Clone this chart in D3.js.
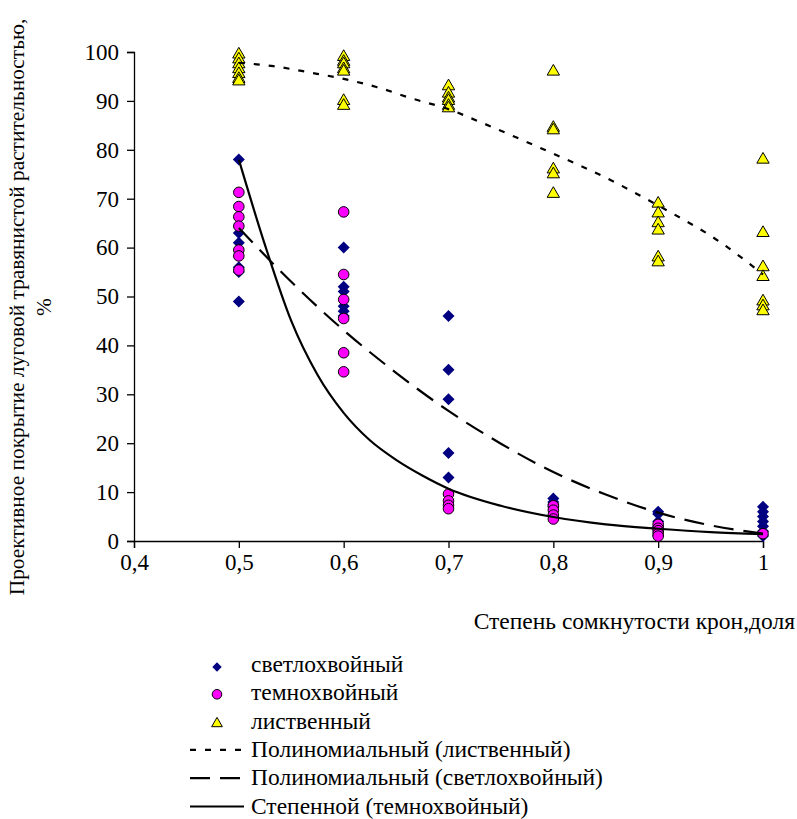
<!DOCTYPE html>
<html>
<head>
<meta charset="utf-8">
<script src="https://cdn.jsdelivr.net/npm/d3@7/dist/d3.min.js"></script>
<style>
  html, body { margin: 0; padding: 0; background: #fff; }
</style>
</head>
<body>
<svg id="chart" width="797" height="819"></svg>
<script>
// ---- data ----
const xTicks = [0.4, 0.5, 0.6, 0.7, 0.8, 0.9, 1.0];
const xTickLabels = ["0,4", "0,5", "0,6", "0,7", "0,8", "0,9", "1"];
const yTicks = [0, 10, 20, 30, 40, 50, 60, 70, 80, 90, 100];

// светлохвойный (diamonds)
const svetloX = [0.5,0.5,0.5,0.5,0.5,0.5, 0.6,0.6,0.6,0.6,0.6,0.6, 0.7,0.7,0.7,0.7,0.7, 0.8,0.8,0.8,0.8, 0.9,0.9,0.9,0.9,0.9, 1,1,1,1,1,1,1];
const svetloY = [78,63,61,56,55,49, 60,52,51,48,47,46, 46,35,29,18,13, 8.7,8,7.5,7, 6,5.5,4,3,1, 7,6,5,4,3,2,1];

// темнохвойный (circles)
const temnoX = [0.5,0.5,0.5,0.5,0.5,0.5,0.5, 0.6,0.6,0.6,0.6,0.6,0.6, 0.7,0.7,0.7,0.7, 0.8,0.8,0.8,0.8, 0.9,0.9,0.9,0.9,0.9, 1];
const temnoY = [71.3,68.4,66.3,64.4,59.5,58.3,55.4, 67.3,54.5,49.4,45.5,38.5,34.6, 9.6,8.2,7.3,6.6, 7.2,6.3,5.3,4.5, 3.4,2.6,2.1,1.5,1, 1.5];

// лиственный (triangles)
const listX = [0.5,0.5,0.5,0.5,0.5,0.5,0.5, 0.6,0.6,0.6,0.6,0.6,0.6,0.6, 0.7,0.7,0.7,0.7,0.7,0.7, 0.8,0.8,0.8,0.8,0.8,0.8, 0.9,0.9,0.9,0.9,0.9,0.9, 1,1,1,1,1,1,1];
const listY = [99.5,98.5,97.5,96.5,95.5,94.5,94, 99,98,97.5,96.5,96,90,89, 93,91.5,90.5,90,89,88.5, 96,84.5,84,76,75,71, 69,67,65,63.5,58,57, 78,63,56,54,49,48,47];

// trend lines
const trendListX = [0.5,0.533,0.568,0.6,0.632,0.665,0.7,0.73,0.765,0.8,0.85,0.9,0.96,1.0];
const trendListY = [97.8,97.1,95.8,94.5,92.8,90.5,88.3,85.7,82.5,79.2,74.3,68.6,61,54.5];
const trendSvetX = [0.5,0.55,0.6,0.65,0.7,0.75,0.8,0.85,0.9,0.95,1.0];
const trendSvetY = [64,53,43.1,34.4,26.6,19.9,14.1,9.5,5.8,3.2,1.5];
const trendTemnoX = [0.5,0.525,0.55,0.575,0.6,0.625,0.65,0.675,0.7,0.75,0.8,0.85,0.9,0.95,1.0];
const trendTemnoY = [78,60.5,45,34,26.2,20.6,16.6,13.4,10.7,7.2,4.9,3.4,2.5,1.8,1.4];

const legendLabels = ["светлохвойный", "темнохвойный", "лиственный",
  "Полиномиальный (лиственный)", "Полиномиальный (светлохвойный)", "Степенной (темнохвойный)"];
const yTitle1 = "Проективное покрытие луговой травянистой растительностью,";
const yTitle2 = "%";
const xTitle = "Степень сомкнутости крон,доля";

// ---- drawing ----
const FONT = "'Liberation Serif', 'Times New Roman', Tinos, 'DejaVu Serif', serif";
const svg = d3.select("#chart").attr("font-family", FONT);
const L = 134, R = 763, T = 52, B = 541;
const x = d3.scaleLinear().domain([0.4, 1.0]).range([L, R]);
const y = d3.scaleLinear().domain([0, 100]).range([B, T]);
const FS_TICK = 23;
const FS = 23.5;

// axes
const xAxis = d3.axisBottom(x).tickValues(xTicks).tickFormat((d, i) => xTickLabels[i]).tickSizeOuter(0).tickSize(7).tickPadding(6);
const yAxis = d3.axisLeft(y).tickValues(yTicks).tickFormat(d3.format("d")).tickSizeOuter(0).tickSize(7).tickPadding(8);

const gx = svg.append("g").attr("transform", `translate(0,${B})`).call(xAxis);
const gy = svg.append("g").attr("transform", `translate(${L},0)`).call(yAxis);
[gx, gy].forEach(g => {
  g.attr("font-family", FONT).attr("font-size", FS_TICK);
  g.selectAll("path.domain").attr("stroke", "#000").attr("stroke-width", 1.3);
  g.selectAll(".tick line").attr("stroke", "#000").attr("stroke-width", 1.3);
  g.selectAll(".tick text").attr("font-size", FS_TICK).attr("font-family", FONT).attr("fill", "#000");
});

function pts(xs, ys) { return xs.map((v, i) => ({ x: v, y: ys[i] })); }

// markers
const gPts = svg.append("g");
gPts.selectAll("path.sv").data(pts(svetloX, svetloY)).enter().append("path")
  .attr("class", "sv")
  .attr("d", d3.symbol().type(d3.symbolSquare).size(72))
  .attr("transform", d => `translate(${x(d.x)},${y(d.y)}) rotate(45)`)
  .attr("fill", "#000080");

gPts.selectAll("circle.tm").data(pts(temnoX, temnoY)).enter().append("circle")
  .attr("class", "tm")
  .attr("cx", d => x(d.x)).attr("cy", d => y(d.y)).attr("r", 5.3)
  .attr("fill", "#FF00FF").attr("stroke", "#000").attr("stroke-width", 1);

gPts.selectAll("path.ls").data(pts(listX, listY)).enter().append("path")
  .attr("class", "ls")
  .attr("d", d3.symbol().type(d3.symbolTriangle).size(66))
  .attr("transform", d => `translate(${x(d.x)},${y(d.y)})`)
  .attr("fill", "#FFFF00").attr("stroke", "#000").attr("stroke-width", 1);

// trend lines
const line = d3.line().x(d => x(d.x)).y(d => y(d.y)).curve(d3.curveMonotoneX);
svg.append("path").datum(pts(trendListX, trendListY)).attr("d", line)
  .attr("fill", "none").attr("stroke", "#000").attr("stroke-width", 2.2).attr("stroke-dasharray", "6,9");
svg.append("path").datum(pts(trendSvetX, trendSvetY)).attr("d", line)
  .attr("fill", "none").attr("stroke", "#000").attr("stroke-width", 2.2).attr("stroke-dasharray", "20,10");
svg.append("path").datum(pts(trendTemnoX, trendTemnoY)).attr("d", line)
  .attr("fill", "none").attr("stroke", "#000").attr("stroke-width", 2.2);

// axis titles
const yt = svg.append("text").attr("transform", "translate(0,307) rotate(-90)")
  .attr("text-anchor", "middle").attr("font-size", 21.4).attr("font-family", FONT);
yt.append("tspan").attr("x", 0).attr("y", 24).text(yTitle1);
yt.append("tspan").attr("x", 0).attr("y", 51).text(yTitle2);

svg.append("text").attr("x", 795).attr("y", 629).attr("text-anchor", "end")
  .attr("font-size", FS).attr("font-family", FONT).text(xTitle);

// legend
const lg = svg.append("g");
const rowY = i => 672 + i * 28.3;
legendLabels.forEach((t, i) => {
  lg.append("text").attr("x", 251).attr("y", rowY(i)).attr("font-size", FS).attr("font-family", FONT).text(t);
});
lg.append("path").attr("d", d3.symbol().type(d3.symbolSquare).size(44))
  .attr("transform", `translate(217,${rowY(0) - 5}) rotate(45)`).attr("fill", "#000080");
lg.append("circle").attr("cx", 217).attr("cy", rowY(1) - 6).attr("r", 4.8)
  .attr("fill", "#FF00FF").attr("stroke", "#000").attr("stroke-width", 1);
lg.append("path").attr("d", d3.symbol().type(d3.symbolTriangle).size(50))
  .attr("transform", `translate(217,${rowY(2) - 5})`).attr("fill", "#FFFF00").attr("stroke", "#000").attr("stroke-width", 1);
const dashes = ["6,9", "20,10", null];
dashes.forEach((da, k) => {
  const yy = rowY(3 + k) - 7;
  const p = lg.append("line").attr("x1", 190).attr("x2", 244).attr("y1", yy).attr("y2", yy)
    .attr("stroke", "#000").attr("stroke-width", 2.2);
  if (da) p.attr("stroke-dasharray", da);
});
</script>
</body>
</html>
